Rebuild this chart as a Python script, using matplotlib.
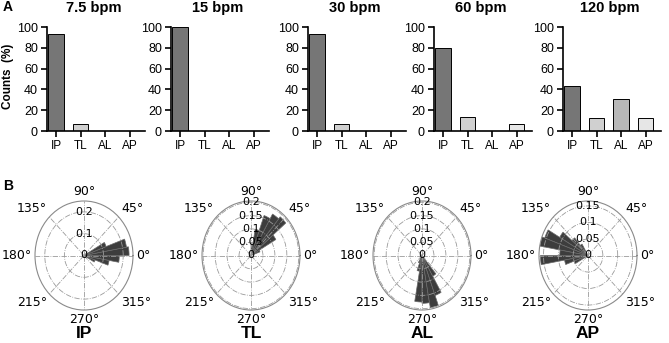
import matplotlib
matplotlib.use("Agg")
import matplotlib.pyplot as plt
import numpy as np

# ---------------------------------------------------------
# DATA
# ---------------------------------------------------------
categories = ["IP", "TL", "AL", "AP"]
rates = ["7.5 bpm", "15 bpm", "30 bpm", "60 bpm", "120 bpm"]
counts_7_5 = [93.3, 6.7, 0, 0]
counts_15 = [100, 0, 0, 0]
counts_30 = [93.3, 6.7, 0, 0]
counts_60 = [80, 13.3, 0, 6.7]
counts_120 = [43.75, 12.5, 31.25, 12.5]
bar_colors = ["#767676", "#d0d0d0", "#b8b8b8", "#e6e6e6"]

# polar histograms: bin centre (deg) and frequency
ip_deg = [-25, -15, -5, 5, 15, 25]
ip_freq = [0.06, 0.13, 0.18, 0.23, 0.22, 0.12]
tl_deg = [25, 35, 45, 55, 65, 75, 85]
tl_freq = [0.04, 0.12, 0.19, 0.18, 0.16, 0.10, 0.04]
al_deg = [245, 255, 265, 275, 285, 295, 305]
al_freq = [0.03, 0.06, 0.175, 0.18, 0.20, 0.16, 0.09]
ap_deg = [125, 135, 145, 155, 165, 175, 185, 195, 205]
ap_freq = [0.04, 0.07, 0.11, 0.155, 0.165, 0.095, 0.16, 0.08, 0.05]

theta_ticks = [0, 45, 90, 135, 180, 225, 270, 315]
theta_labels = ["0°", "45°", "90°", "135°", "180°", "215°", "270°", "315°"]

W, H = 669, 343
fig = plt.figure(figsize=(W / 100, H / 100), dpi=100)
sans = "Liberation Sans"

# ---------------------------------------------------------
# A: bar charts
# ---------------------------------------------------------
all_counts = [counts_7_5, counts_15, counts_30, counts_60, counts_120]
lefts = [47, 171, 308, 434, 563]
x = np.arange(len(categories))
for i, (rate, vals) in enumerate(zip(rates, all_counts)):
    ax = fig.add_axes([lefts[i] / W, (H - 131) / H, 98 / W, 104 / H])
    ax.bar(x, vals, width=0.64, color=bar_colors, edgecolor="black", linewidth=0.7)
    ax.set_xlim(-0.37, 3.63)
    ax.set_ylim(0, 100)
    ax.set_yticks(range(0, 101, 20))
    ax.set_xticks(x)
    ax.set_xticklabels(categories)
    for s in ["top", "right"]:
        ax.spines[s].set_visible(False)
    for s in ["left", "bottom"]:
        ax.spines[s].set_linewidth(1.2)
    ax.tick_params(direction="out", length=4, width=1.2, pad=2.5)
    for lab in ax.get_xticklabels():
        lab.set_fontfamily(sans)
        lab.set_fontsize(8.5)
    for lab in ax.get_yticklabels():
        lab.set_fontfamily(sans)
        lab.set_fontsize(9)
    # title centred over the panel
    fig.text((lefts[i] + 47) / W, 1 - 8 / H, rate, ha="center", va="center",
             fontsize=10.5, fontweight="bold", family=sans)

fig.text(8.5 / W, 1 - 76 / H, "Counts  (%)", rotation=90, ha="center", va="center",
         fontsize=8.5, fontweight="bold", family=sans)
fig.text(3 / W, 1 - 7 / H, "A", ha="left", va="center", fontsize=10, fontweight="bold", family=sans)
fig.text(3 / W, 1 - 186 / H, "B", ha="left", va="center", fontsize=10, fontweight="bold", family=sans)

# ---------------------------------------------------------
# B: polar histograms
# ---------------------------------------------------------
polar_sets = [
    ("IP", ip_deg, ip_freq, 0.25, [0, 0.1, 0.2], ["0", "0.1", "0.2"]),
    ("TL", tl_deg, tl_freq, 0.205, [0, 0.05, 0.1, 0.15, 0.2], ["0", "0.05", "0.1", "0.15", "0.2"]),
    ("AL", al_deg, al_freq, 0.205, [0, 0.05, 0.1, 0.15, 0.2], ["0", "0.05", "0.1", "0.15", "0.2"]),
    ("AP", ap_deg, ap_freq, 0.165, [0, 0.05, 0.1, 0.15], ["0", "0.05", "0.1", "0.15"]),
]
centres = [84, 251, 422, 588]
rx, ry = 49, 54.5
gap = 2.5  # points between spine and angle label
for c, (name, deg, freq, rmax, rt, rl) in zip(centres, polar_sets):
    ax = fig.add_axes([(c - rx) / W, (H - 255.5 - ry) / H, 2 * rx / W, 2 * ry / H],
                      projection="polar")
    ax.set_aspect("auto")
    ax.bar(np.deg2rad(deg), freq, width=np.deg2rad(10), color="#3d3d3d",
           edgecolor="#6a6a6a", linewidth=0.5)
    ax.set_ylim(0, rmax)
    ax.set_yticks(rt)
    ax.set_yticklabels([])
    # radial labels centred on the 90° line
    for r, lbl in zip(rt, rl):
        ax.text(np.pi / 2, r, lbl, ha="center", va="center", fontsize=8, zorder=5)
    ax.set_xticks(np.deg2rad(theta_ticks))
    ax.set_xticklabels([])
    # angle labels just outside the rim
    for t, lbl in zip(theta_ticks, theta_labels):
        co, si = np.cos(np.deg2rad(t)), np.sin(np.deg2rad(t))
        ha = "left" if co > 0.1 else ("right" if co < -0.1 else "center")
        va = "bottom" if si > 0.1 else ("top" if si < -0.1 else "center")
        ax.annotate(lbl, xy=(np.deg2rad(t), rmax), xytext=(gap * co, gap * si),
                    textcoords="offset points", ha=ha, va=va, fontsize=9,
                    annotation_clip=False)
    ax.grid(True, linestyle="-.", linewidth=0.6, color="#9a9a9a")
    ax.spines["polar"].set_color("#8a8a8a")
    ax.spines["polar"].set_linewidth(0.8)
    fig.text(c / W, 1 - 333 / H, name, ha="center", va="center",
             fontsize=12.5, fontweight="bold", family=sans)

fig.savefig("out.png", dpi=100)
